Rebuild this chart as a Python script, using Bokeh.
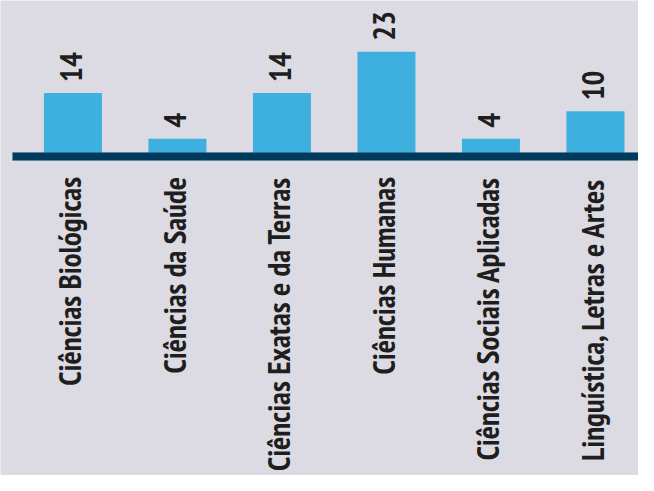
import numpy as np
from bokeh.plotting import figure
from bokeh.models import ColumnDataSource, Range1d, BoxAnnotation
from bokeh.core.properties import value
from bokeh.embed import file_html
from bokeh.resources import INLINE

categories = [
    "Ciências Biológicas",
    "Ciências da Saúde",
    "Ciências Exatas e da Terras",
    "Ciências Humanas",
    "Ciências Sociais Aplicadas",
    "Linguística, Letras e Artes",
]
counts = [14, 4, 14, 23, 4, 10]
count_labels = [str(c) for c in counts]

xpos = [i + 0.5 for i in range(len(categories))]
src = ColumnDataSource(dict(x=xpos, top=counts, cat=categories, lbl=count_labels))

BG = "#DCDAE3"
p = figure(width=638, height=475, output_backend="svg", toolbar_location=None,
           x_range=Range1d(-0.193, 5.912), y_range=Range1d(-69.54, 34.17),
           x_axis_location=None, y_axis_location=None, min_border=0)
p.grid.visible = False
p.outline_line_color = None
p.background_fill_color = BG
p.border_fill_color = BG

p.vbar(x="x", top="top", bottom=0, width=0.555, source=src,
       fill_color="#3EB0DF", line_color=None)

base = BoxAnnotation(left=-0.078, top=0.98, bottom=-0.76,
                     fill_color="#003A5C", fill_alpha=1,
                     line_color="#4A7390", line_width=1)
p.add_layout(base)

FONT = value("'PT Sans Narrow', 'Asap Condensed', 'Archivo Narrow', Roboto")
p.text(x="x", y="top", text="lbl", source=src, angle=np.pi / 2,
       text_align="left", text_baseline="middle", y_offset=-11, x_offset=-2,
       text_font=FONT, text_font_style="bold", text_font_size="31px",
       text_color="#1E1E1E")
p.text(x="x", y=0, text="cat", source=src, angle=np.pi / 2,
       text_align="right", text_baseline="middle", y_offset=20, x_offset=-3,
       text_font=FONT, text_font_style="bold", text_font_size="31px",
       text_color="#1E1E1E")

open("out.html", "w").write(file_html(p, INLINE))
